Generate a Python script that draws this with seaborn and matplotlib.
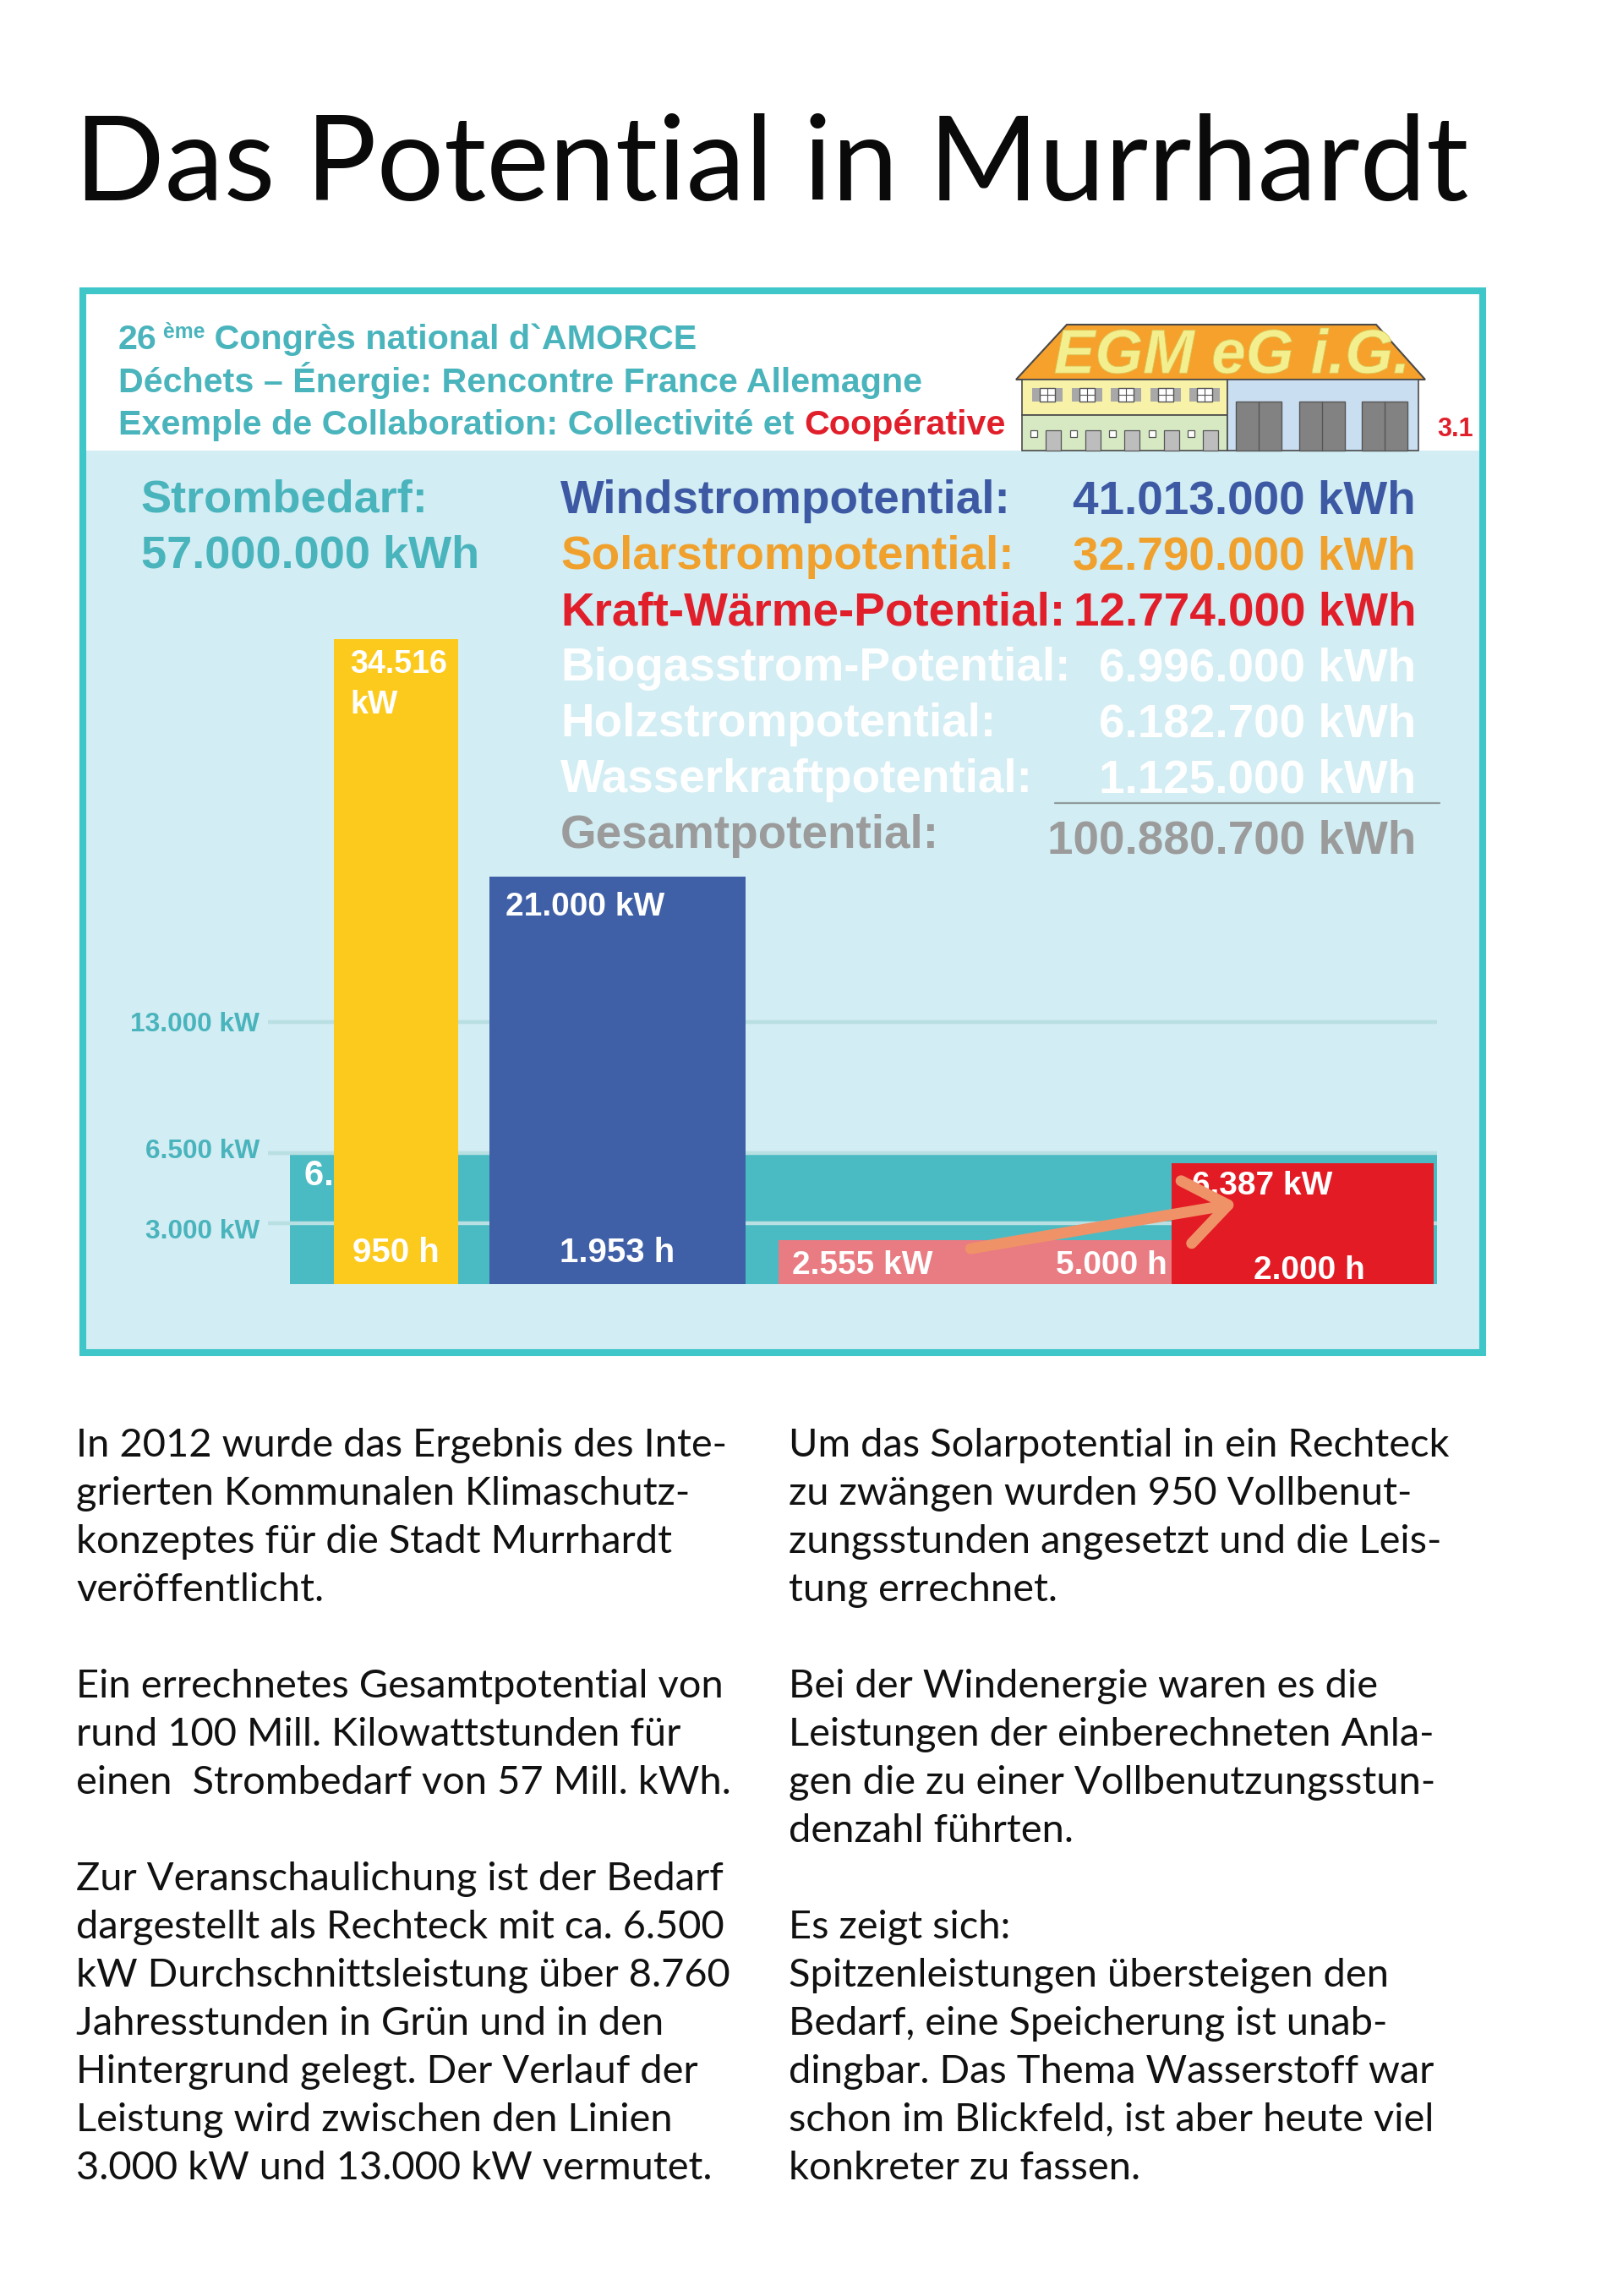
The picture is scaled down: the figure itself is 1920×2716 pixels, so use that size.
import matplotlib
matplotlib.use("Agg")
import matplotlib.pyplot as plt
import seaborn as sns
import numpy as np
import pandas as pd
from matplotlib.patches import Rectangle, Polygon, FancyArrowPatch, PathPatch
from matplotlib.textpath import TextPath
from matplotlib.font_manager import FontProperties
from matplotlib.transforms import Affine2D

# ---------------- data ----------------
title = "Das Potential in Murrhardt"

demand_label = "Strombedarf:"
demand_value = "57.000.000 kWh"

potential_names = ["Windstrompotential:", "Solarstrompotential:", "Kraft-Wärme-Potential:",
                   "Biogasstrom-Potential:", "Holzstrompotential:", "Wasserkraftpotential:"]
potential_values = ["41.013.000 kWh", "32.790.000 kWh", "12.774.000 kWh",
                    "6.996.000 kWh", "6.182.700 kWh", "1.125.000 kWh"]
total_name = "Gesamtpotential:"
total_value = "100.880.700 kWh"

# bars: demand background, solar, wind, CHP 5000 h, CHP 2000 h
bar_names = ["Bedarf", "Solar", "Wind", "KWK 5000 h", "KWK 2000 h"]
bar_hours = [8760, 950, 1953, 5000, 2000]
bar_kw_drawn = [6500, 32000, 20200, 2200, 6000]
bar_kw_labels = ["6.500 kW", "34.516", "21.000 kW", "2.555 kW", "6.387 kW"]
bar_h_labels = ["", "950 h", "1.953 h", "5.000 h", "2.000 h"]

guide_kw = [3000, 6500, 13000]
guide_labels = ["3.000 kW", "6.500 kW", "13.000 kW"]

left_lines = ["In 2012 wurde das Ergebnis des Inte-",
              "grierten Kommunalen Klimaschutz-",
              "konzeptes für die Stadt Murrhardt",
              "veröffentlicht.",
              "",
              "Ein errechnetes Gesamtpotential von",
              "rund 100 Mill. Kilowattstunden für",
              "einen  Strombedarf von 57 Mill. kWh.",
              "",
              "Zur Veranschaulichung ist der Bedarf",
              "dargestellt als Rechteck mit ca. 6.500",
              "kW Durchschnittsleistung über 8.760",
              "Jahresstunden in Grün und in den",
              "Hintergrund gelegt. Der Verlauf der",
              "Leistung wird zwischen den Linien",
              "3.000 kW und 13.000 kW vermutet."]
right_lines = ["Um das Solarpotential in ein Rechteck",
               "zu zwängen wurden 950 Vollbenut-",
               "zungsstunden angesetzt und die Leis-",
               "tung errechnet.",
               "",
               "Bei der Windenergie waren es die",
               "Leistungen der einberechneten Anla-",
               "gen die zu einer Vollbenutzungsstun-",
               "denzahl führten.",
               "",
               "Es zeigt sich:",
               "Spitzenleistungen übersteigen den",
               "Bedarf, eine Speicherung ist unab-",
               "dingbar. Das Thema Wasserstoff war",
               "schon im Blickfeld, ist aber heute viel",
               "konkreter zu fassen."]

# ---------------- style ----------------
sns.set_theme(style="white")
plt.rcParams['font.family'] = ['Liberation Sans', 'DejaVu Sans']

W, H = 1920, 2716
fig = plt.figure(figsize=(W / 100, H / 100), dpi=100)
fig.patch.set_facecolor("white")
renderer = fig.canvas.get_renderer()

bg = fig.add_axes([0, 0, 1, 1], zorder=0)
bg.set_xlim(0, W)
bg.set_ylim(H, 0)
bg.axis("off")

TEAL_T = "#4ab4bd"
BLUE_T = "#3d59a3"
ORANGE_T = "#f0a02c"
RED_T = "#e01f2b"
GRAY_T = "#9b9b9b"
PANEL_BG = "#d2edf3"
BORDER = "#3fc6c8"
B = "Liberation Sans"


def width_of(t):
    return t.get_window_extent(renderer).width


def fit(t, target):
    t.set_fontsize(t.get_fontsize() * target / width_of(t))
    return t.get_fontsize()


# ---------------- title ----------------
tt = bg.text(88, 237, title, family="Lato", fontsize=95, color="#0a0a0a", va="baseline", ha="left")
fit(tt, 1650)

# ---------------- panel ----------------
bg.add_patch(Rectangle((98, 344), 1656, 1256, facecolor=PANEL_BG, edgecolor="none", zorder=1))
bg.add_patch(Rectangle((98, 344), 1656, 189, facecolor="white", edgecolor="none", zorder=1.1))
bg.add_patch(Rectangle((98, 344), 1656, 1256, facecolor="none", edgecolor=BORDER, lw=5.8, zorder=5))


def seq(x, y, pieces):
    out = []
    for s, kw in pieces:
        t = bg.text(x, y, s, va="baseline", ha="left", family=B, fontweight="bold", zorder=3, **kw)
        out.append(t)
        x += width_of(t)
    return out


# header, size fitted to the middle line
probe = bg.text(0, 0, "Déchets – Énergie: Rencontre France Allemagne", family=B, fontweight="bold", fontsize=25)
hs = fit(probe, 954)
probe.remove()
p1 = seq(140, 413, [("26", dict(fontsize=hs, color=TEAL_T)),
                    (" ème", dict(fontsize=hs * 0.6, color=TEAL_T)),
                    (" Congrès national d`AMORCE", dict(fontsize=hs, color=TEAL_T))])
p1[1].set_y(400)
seq(140, 464, [("Déchets – Énergie: Rencontre France Allemagne", dict(fontsize=hs, color=TEAL_T))])
seq(140, 514, [("Exemple de Collaboration: Collectivité et ", dict(fontsize=hs, color=TEAL_T)),
               ("Coopérative", dict(fontsize=hs, color=RED_T))])
bg.text(1700, 516, "3.1", family=B, fontweight="bold", fontsize=22, color=RED_T, va="baseline", zorder=3)

# EGM logo
ec = "#4a4a4a"
bg.add_patch(Polygon([(1262, 384), (1628, 384), (1686, 449), (1202, 449)], closed=True,
                     facecolor="#f6a12c", edgecolor=ec, lw=1.5, zorder=3))
fp = FontProperties(family="Liberation Sans", weight="bold", style="italic")
tp = TextPath((0, 0), "EGM eG i.G.", size=100, prop=fp)
ext = tp.get_extents()
rx0, rx1, ry_top, ry_base = 1248, 1662, 388, 442
tr = (Affine2D().translate(-ext.x0, -ext.y0)
      .scale((rx1 - rx0) / ext.width, -(ry_base - ry_top) / ext.height)
      .translate(rx0, ry_base))
bg.add_patch(PathPatch(tr.transform_path(tp), facecolor="#f4ef8e", edgecolor="#d9c75a", lw=0.6, zorder=4))
bg.add_patch(Rectangle((1209, 449), 243, 42, facecolor="#f8f2a8", edgecolor=ec, lw=1.2, zorder=3))
bg.add_patch(Rectangle((1209, 491), 243, 42, facecolor="#d6e9c3", edgecolor=ec, lw=1.2, zorder=3))
bg.add_patch(Rectangle((1452, 449), 226, 84, facecolor="#c9def1", edgecolor=ec, lw=1.2, zorder=3))
for i in range(5):
    cx = 1239 + i * 46.6
    bg.add_patch(Rectangle((cx - 18, 459), 36, 16, facecolor="#a8a8a8", edgecolor="none", zorder=3.2))
    bg.add_patch(Rectangle((cx - 9, 459), 18, 16, facecolor="white", edgecolor="#555555", lw=1, zorder=3.3))
    bg.plot([cx, cx], [459, 475], color="#555555", lw=0.8, zorder=3.4)
    bg.plot([cx - 9, cx + 9], [467, 467], color="#555555", lw=0.8, zorder=3.4)
    bg.add_patch(Rectangle((cx - 20, 509), 8, 8, facecolor="white", edgecolor="#555555", lw=0.9, zorder=3.3))
    bg.add_patch(Rectangle((cx - 2, 509), 18, 24, facecolor="#bdbdbd", edgecolor="#555555", lw=0.9, zorder=3.3))
for gx in [1462, 1537, 1611]:
    bg.add_patch(Rectangle((gx, 475), 54, 58, facecolor="#828282", edgecolor="#555555", lw=1, zorder=3.3))
    bg.plot([gx + 27, gx + 27], [475, 533], color="#555555", lw=1, zorder=3.4)

# demand text
bg.text(167, 605, demand_label, family=B, fontweight="bold", fontsize=39, color=TEAL_T, va="baseline", zorder=3)
bg.text(167, 672, demand_value, family=B, fontweight="bold", fontsize=39, color=TEAL_T, va="baseline", zorder=3)

pot_colors = [BLUE_T, ORANGE_T, RED_T, "white", "white", "white"]
for i, (n, v) in enumerate(zip(potential_names, potential_values)):
    y = 607 + 66 * i
    bg.text(663, y, n, family=B, fontweight="bold", fontsize=39.5, color=pot_colors[i], va="baseline", zorder=3)
    bg.text(1675, y, v, family=B, fontweight="bold", fontsize=39.5, color=pot_colors[i], va="baseline",
            ha="right", zorder=3)
bg.plot([1248, 1703], [950, 950], color="#8f9a9c", lw=1.6, zorder=3)
bg.text(663, 1003, total_name, family=B, fontweight="bold", fontsize=39.5, color=GRAY_T, va="baseline", zorder=3)
bg.text(1675, 1009, total_value, family=B, fontweight="bold", fontsize=39.5, color=GRAY_T, va="baseline",
        ha="right", zorder=3)

# ---------------- chart ----------------
x0_px, x_teal_px, x1_px = 317, 343, 1700
y0_px, y1_px = 1519, 700
px_per_h = (x1_px - x_teal_px) / 8760
px_per_kw = (1519 - 1364) / 6500
ax = fig.add_axes([x0_px / W, 1 - y0_px / H, (x1_px - x0_px) / W, (y0_px - y1_px) / H], zorder=2)
ax.patch.set_alpha(0)
ax.set_xlim(-(x_teal_px - x0_px) / px_per_h, 8760)
ax.set_ylim(0, (y0_px - y1_px) / px_per_kw)
sns.despine(ax=ax, left=True, bottom=True)
ax.set_xticks([])
ax.set_yticks(guide_kw, guide_labels)
ax.tick_params(axis="y", length=0, pad=7.2, labelsize=22.8, labelcolor=TEAL_T)
tick_shift = [-6, 5, 0]   # small vertical nudges (pixels) as in the original artwork
for lab, dy in zip(ax.get_yticklabels(), tick_shift):
    lab.set_fontweight("bold")
    lab.set_family(B)
    lab.set_transform(lab.get_transform() + Affine2D().translate(0, dy))
ax.grid(False)

gaps = [0, 336, 238, 254]
x_starts = [0]
x_starts.append(gaps[1])
x_starts.append(x_starts[1] + bar_hours[1] + gaps[2])
x_starts.append(x_starts[2] + bar_hours[2] + gaps[3])
x_starts.append(x_starts[3] + bar_hours[3] - bar_hours[4])
colors = ["#4bbbc3", "#fcca1d", "#3f5fa6", "#e97b82", "#e31b24"]
zs = [1, 3, 3, 3, 3.1]

df = pd.DataFrame({"name": bar_names, "x0": x_starts, "hours": bar_hours, "kw": bar_kw_drawn})
for i, r in df.iterrows():
    ax.bar(r.x0, r.kw, width=r.hours, align="edge", color=colors[i], zorder=zs[i], linewidth=0)

ax.hlines(guide_kw, ax.get_xlim()[0], 8760, colors="#b8dfe2", lw=3.2, zorder=2)

lab_kw = dict(family=B, fontweight="bold", color="white", textcoords="offset pixels", va="baseline")
# demand text behind the yellow bar
ax.annotate(bar_kw_labels[0], (df.x0[0], df.kw[0]), xytext=(17, -38), fontsize=30, zorder=2.5, **lab_kw)
# solar
ax.annotate(bar_kw_labels[1], (df.x0[1], df.kw[1]), xytext=(19, -40), fontsize=27, zorder=4, **lab_kw)
ax.annotate("kW", (df.x0[1], df.kw[1]), xytext=(19, -88), fontsize=27, zorder=4, **lab_kw)
ax.annotate(bar_h_labels[1], (df.x0[1] + df.hours[1] / 2, 0), xytext=(0, 26), fontsize=29, ha="center",
            zorder=4, **lab_kw)
# wind
ax.annotate(bar_kw_labels[2], (df.x0[2], df.kw[2]), xytext=(19, -46), fontsize=28, zorder=4, **lab_kw)
ax.annotate(bar_h_labels[2], (df.x0[2] + df.hours[2] / 2, 0), xytext=(0, 26), fontsize=29, ha="center",
            zorder=4, **lab_kw)
# CHP 5000 h
ax.annotate(bar_kw_labels[3], (df.x0[3], 0), xytext=(16, 12), fontsize=28, zorder=4, **lab_kw)
ax.annotate(bar_h_labels[3], (df.x0[4], 0), xytext=(-5, 12), fontsize=28, ha="right", zorder=4, **lab_kw)
# CHP 2000 h
ax.annotate(bar_kw_labels[4], (df.x0[4], df.kw[4]), xytext=(24, -37), fontsize=28, zorder=4, **lab_kw)
ax.annotate(bar_h_labels[4], (df.x0[4] + df.hours[4] / 2, 0), xytext=(8, 6), fontsize=28, ha="center",
            zorder=4, **lab_kw)

# arrow from the 5000 h block to the 2000 h block
tail = (df.x0[3] + 0.29 * df.hours[3], 0.79 * df.kw[3])
head = (df.x0[4] + 0.26 * df.hours[4], 0.67 * df.kw[4])
arr = FancyArrowPatch(tail, head, arrowstyle="->,head_length=0.36,head_width=0.27", mutation_scale=100,
                      color="#f09267", lw=9.4, capstyle="round", joinstyle="round", zorder=5)
ax.add_patch(arr)

# ---------------- body text ----------------
t0 = bg.text(90, 1723, left_lines[0], family="Lato", fontsize=30, color="#111111", va="baseline")
fs = fit(t0, 769)
for i, line in enumerate(left_lines[1:], start=1):
    if line:
        bg.text(90, 1723 + 57.0 * i, line, family="Lato", fontsize=fs, color="#111111", va="baseline")
for i, line in enumerate(right_lines):
    if line:
        bg.text(933, 1723 + 57.0 * i, line, family="Lato", fontsize=fs, color="#111111", va="baseline")

fig.savefig("out.png", dpi=100, facecolor="white")
